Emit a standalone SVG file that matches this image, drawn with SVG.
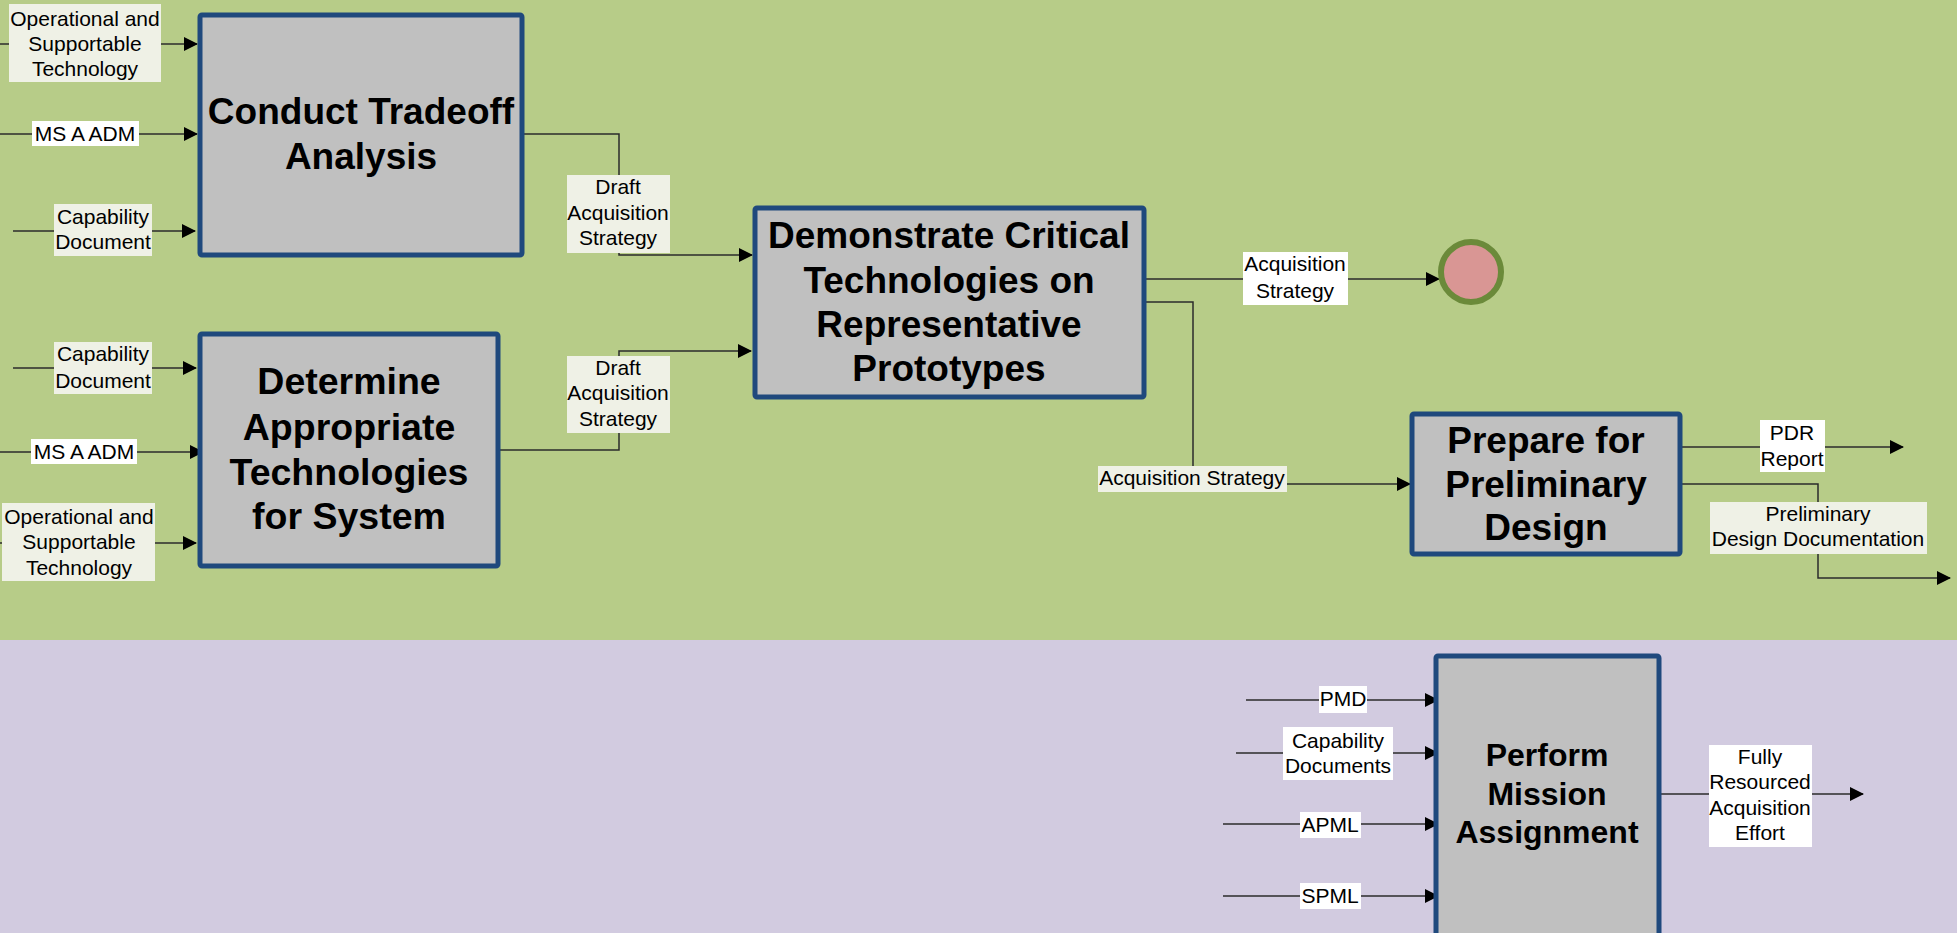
<svg xmlns="http://www.w3.org/2000/svg" width="1957" height="933" viewBox="0 0 1957 933">
<style>
.box{fill:#c0c0c0;stroke:#1f497d;stroke-width:5}
.t{font-family:"Liberation Sans",Arial,sans-serif;font-weight:bold;font-size:37px;text-anchor:middle;fill:#000}
.l{font-family:"Liberation Sans",Arial,sans-serif;font-size:21px;text-anchor:middle;fill:#000}
.lw{fill:#ffffff}
.lo{fill:#eff1e6}
.c{fill:none;stroke:#2b2b2b;stroke-width:1.5}
</style>
<defs>
<marker id="ah" markerUnits="userSpaceOnUse" markerWidth="14" markerHeight="14" refX="13" refY="7" orient="auto">
<path d="M0,0 L14,7 L0,14 z" fill="#000"/>
</marker>
</defs>
<rect x="0" y="0" width="1957" height="640" fill="#b7cc88"/>
<rect x="0" y="640" width="1957" height="293" fill="#d2cbe0"/>

<g id="connectors">
<path class="c" d="M0,44 H197" marker-end="url(#ah)"/>
<path class="c" d="M0,134 H197" marker-end="url(#ah)"/>
<path class="c" d="M13,231 H195" marker-end="url(#ah)"/>
<path class="c" d="M13,368 H196" marker-end="url(#ah)"/>
<path class="c" d="M0,452 H203" marker-end="url(#ah)"/>
<path class="c" d="M0,543 H196" marker-end="url(#ah)"/>
<path class="c" d="M524,134 H619 V255 H752" marker-end="url(#ah)"/>
<path class="c" d="M500,450 H619 V351 H751" marker-end="url(#ah)"/>
<path class="c" d="M1146,279 H1439" marker-end="url(#ah)"/>
<path class="c" d="M1146,302 H1193 V484 H1410" marker-end="url(#ah)"/>
<path class="c" d="M1682,447 H1903" marker-end="url(#ah)"/>
<path class="c" d="M1682,484 H1818 V578 H1950" marker-end="url(#ah)"/>
<path class="c" d="M1246,700 H1438" marker-end="url(#ah)"/>
<path class="c" d="M1236,753 H1438" marker-end="url(#ah)"/>
<path class="c" d="M1223,824 H1438" marker-end="url(#ah)"/>
<path class="c" d="M1223,896 H1438" marker-end="url(#ah)"/>
<path class="c" d="M1661,794 H1863" marker-end="url(#ah)"/>
</g>

<g id="labels">
<rect class="lo" x="9" y="4" width="152" height="78"/>
<text class="l"><tspan x="85" y="26">Operational and</tspan><tspan x="85" y="51">Supportable</tspan><tspan x="85" y="76">Technology</tspan></text>
<rect class="lw" x="32" y="121" width="107" height="25"/>
<text class="l" x="85" y="141">MS A ADM</text>
<rect class="lo" x="54" y="204" width="98" height="52"/>
<text class="l"><tspan x="103" y="224">Capability</tspan><tspan x="103" y="249">Document</tspan></text>
<rect class="lo" x="54" y="342" width="98" height="52"/>
<text class="l"><tspan x="103" y="361">Capability</tspan><tspan x="103" y="388">Document</tspan></text>
<rect class="lw" x="31" y="439" width="106" height="25"/>
<text class="l" x="84" y="459">MS A ADM</text>
<rect class="lo" x="2" y="503" width="153" height="78"/>
<text class="l"><tspan x="79" y="524">Operational and</tspan><tspan x="79" y="549">Supportable</tspan><tspan x="79" y="575">Technology</tspan></text>
<rect class="lo" x="567" y="175" width="103" height="78"/>
<text class="l"><tspan x="618" y="194">Draft</tspan><tspan x="618" y="220">Acquisition</tspan><tspan x="618" y="245">Strategy</tspan></text>
<rect class="lo" x="567" y="356" width="103" height="77"/>
<text class="l"><tspan x="618" y="375">Draft</tspan><tspan x="618" y="400">Acquisition</tspan><tspan x="618" y="426">Strategy</tspan></text>
<rect class="lw" x="1243" y="252" width="105" height="53"/>
<text class="l"><tspan x="1295" y="271">Acquisition</tspan><tspan x="1295" y="298">Strategy</tspan></text>
<rect class="lo" x="1098" y="466" width="189" height="26"/>
<text class="l" x="1192" y="485">Acquisition Strategy</text>
<rect class="lw" x="1760" y="420" width="65" height="52"/>
<text class="l"><tspan x="1792" y="440">PDR</tspan><tspan x="1792" y="466">Report</tspan></text>
<rect class="lo" x="1710" y="502" width="217" height="52"/>
<text class="l"><tspan x="1818" y="521">Preliminary</tspan><tspan x="1818" y="546">Design Documentation</tspan></text>
<rect class="lw" x="1319" y="686" width="48" height="27"/>
<text class="l" x="1343" y="706">PMD</text>
<rect class="lw" x="1283" y="727" width="110" height="53"/>
<text class="l"><tspan x="1338" y="748">Capability</tspan><tspan x="1338" y="773">Documents</tspan></text>
<rect class="lw" x="1300" y="812" width="61" height="26"/>
<text class="l" x="1330" y="832">APML</text>
<rect class="lw" x="1300" y="883" width="61" height="26"/>
<text class="l" x="1330" y="903">SPML</text>
<rect class="lw" x="1709" y="745" width="103" height="102"/>
<text class="l"><tspan x="1760" y="764">Fully</tspan><tspan x="1760" y="789">Resourced</tspan><tspan x="1760" y="815">Acquisition</tspan><tspan x="1760" y="840">Effort</tspan></text>
</g>

<g id="conduct-tradeoff">
<rect class="box" x="200" y="15" width="322" height="240" rx="2"/>
<text class="t"><tspan x="361" y="124">Conduct Tradeoff</tspan><tspan x="361" y="169">Analysis</tspan></text>
</g>
<g id="determine-technologies">
<rect class="box" x="200" y="334" width="298" height="232" rx="2"/>
<text class="t" style="font-size:37.5px"><tspan x="349" y="394">Determine</tspan><tspan x="349" y="440">Appropriate</tspan><tspan x="349" y="485">Technologies</tspan><tspan x="349" y="529">for System</tspan></text>
</g>
<g id="demonstrate-critical">
<rect class="box" x="755" y="208" width="389" height="189" rx="2"/>
<text class="t"><tspan x="949" y="248">Demonstrate Critical</tspan><tspan x="949" y="293">Technologies on</tspan><tspan x="949" y="337">Representative</tspan><tspan x="949" y="381">Prototypes</tspan></text>
</g>
<g id="end-circle">
<circle cx="1471" cy="272" r="30" fill="#d99694" stroke="#6b8a3a" stroke-width="6"/>
</g>
<g id="prepare-preliminary">
<rect class="box" x="1412" y="414" width="268" height="140" rx="2"/>
<text class="t"><tspan x="1546" y="453">Prepare for</tspan><tspan x="1546" y="497">Preliminary</tspan><tspan x="1546" y="540">Design</tspan></text>
</g>
<g id="perform-mission">
<rect class="box" x="1436" y="656" width="223" height="295" rx="2"/>
<text class="t" style="font-size:32px"><tspan x="1547" y="766">Perform</tspan><tspan x="1547" y="805">Mission</tspan><tspan x="1547" y="843">Assignment</tspan></text>
</g>
</svg>
